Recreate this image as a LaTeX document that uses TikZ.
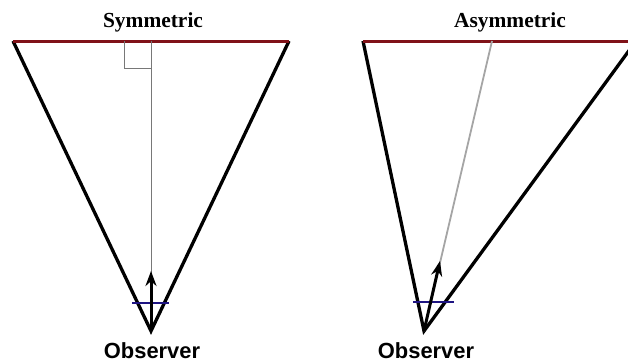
\documentclass[tikz,border=0pt]{standalone}
\usepackage{fontspec}
\newfontfamily\obsfont{Liberation Sans}
\newfontfamily\titlefont{Liberation Serif}
\usetikzlibrary{arrows.meta}
\definecolor{screenred}{RGB}{128,18,24}
\definecolor{planeblue}{RGB}{30,20,130}
\definecolor{axisgray}{RGB}{120,120,120}
\definecolor{lightaxis}{RGB}{165,165,165}
\tikzset{
  frustum/.style={line width=3.3bp, black, line join=miter},
  screen/.style={line width=3bp, screenred},
  nearplane/.style={line width=2.5bp, planeblue},
  axisline/.style={line width=0.8bp, axisgray},
  axislight/.style={line width=1.8bp, lightaxis},
  rightangle/.style={line width=0.9bp, axisgray},
  viewdir/.style={line width=3bp, black, -{Stealth[length=15bp,width=11bp]}},
  title/.style={inner sep=0pt, font=\titlefont\bfseries\fontsize{21.5}{24}\selectfont},
  obs/.style={inner sep=0pt, font=\obsfont\bfseries\fontsize{22}{25}\selectfont}
}
\begin{document}
\begin{tikzpicture}[x=1bp,y=-1bp]
\useasboundingbox (0,0) rectangle (628,362);
\clip (0,0) rectangle (628,362);
% symmetric
\coordinate (LA) at (151,331);
\coordinate (LL) at (13,41);
\coordinate (LR) at (289,41);
\coordinate (LC) at (151,41);
\coordinate (LTip) at (151,271);
\coordinate (LB1) at (132,303);
\coordinate (LB2) at (169,303);
\coordinate (RA1) at (124,41);
\coordinate (RA2) at (124,68);
\coordinate (RA3) at (151,68);
\draw[frustum] (LL) -- (LA) -- (LR);
\draw[screen] (LL) -- (LR);
\draw[axisline] (LA) -- (LC);
\draw[rightangle] (RA1) -- (RA2) -- (RA3);
\draw[nearplane] (LB1) -- (LB2);
\draw[viewdir] (LA) -- (LTip);
\node[title] (t1) at (153,22) {Symmetric};
\node[obs] (o1) at (152,350.5) {Observer};
% asymmetric
\coordinate (RA) at (424,331);
\coordinate (RL) at (363,41);
\coordinate (RR) at (636,41);
\coordinate (RC) at (492,41);
\coordinate (RTip) at (440,261);
\coordinate (RB1) at (413,302);
\coordinate (RB2) at (454,302);
\draw[frustum] (RL) -- (RA) -- (RR);
\draw[screen] (RL) -- (RR);
\draw[axislight] (RA) -- (RC);
\draw[nearplane] (RB1) -- (RB2);
\draw[viewdir] (RA) -- (RTip);
\node[title] (t2) at (510,22) {Asymmetric};
\node[obs] (o2) at (426,350.5) {Observer};
\end{tikzpicture}
\end{document}
